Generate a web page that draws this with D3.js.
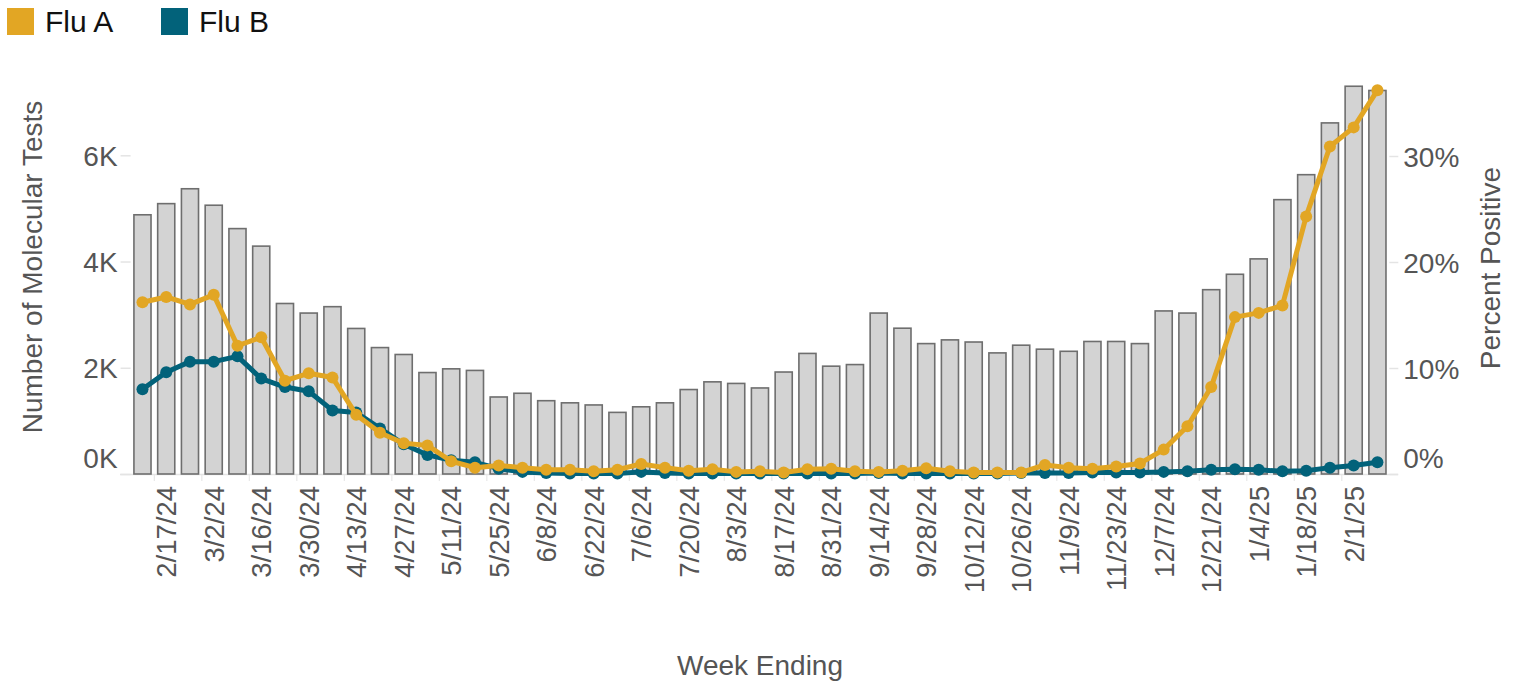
<!DOCTYPE html>
<html>
<head>
<meta charset="utf-8">
<script src="https://cdn.jsdelivr.net/npm/d3@7"></script>
<style>
  html, body { margin: 0; padding: 0; background: #fff; }
  svg { display: block; font-family: "Liberation Sans", Arial, sans-serif; }
</style>
</head>
<body>
<svg id="chart" width="1515" height="683"></svg>
<script>
const weeks = ["2/10/24","2/17/24","2/24/24","3/2/24","3/9/24","3/16/24","3/23/24","3/30/24","4/6/24","4/13/24","4/20/24","4/27/24","5/4/24","5/11/24","5/18/24","5/25/24","6/1/24","6/8/24","6/15/24","6/22/24","6/29/24","7/6/24","7/13/24","7/20/24","7/27/24","8/3/24","8/10/24","8/17/24","8/24/24","8/31/24","9/7/24","9/14/24","9/21/24","9/28/24","10/5/24","10/12/24","10/19/24","10/26/24","11/2/24","11/9/24","11/16/24","11/23/24","11/30/24","12/7/24","12/14/24","12/21/24","12/28/24","1/4/25","1/11/25","1/18/25","1/25/25","2/1/25","2/8/25"];
const tickLabels = ["2/17/24","3/2/24","3/16/24","3/30/24","4/13/24","4/27/24","5/11/24","5/25/24","6/8/24","6/22/24","7/6/24","7/20/24","8/3/24","8/17/24","8/31/24","9/14/24","9/28/24","10/12/24","10/26/24","11/9/24","11/23/24","12/7/24","12/21/24","1/4/25","1/18/25","2/1/25"];
const tests = [4880,5090,5370,5060,4620,4290,3210,3030,3150,2740,2380,2250,1910,1980,1950,1450,1520,1380,1340,1300,1160,1265,1340,1590,1735,1705,1620,1920,2270,2030,2060,3030,2745,2455,2525,2485,2280,2425,2350,2310,2495,2495,2455,3070,3030,3470,3760,4050,5165,5635,6610,7300,7220];
const fluA = [16.2,16.7,16.0,16.9,12.1,12.9,8.8,9.5,9.1,5.6,3.9,2.9,2.7,1.2,0.6,0.8,0.6,0.4,0.4,0.25,0.4,0.95,0.6,0.3,0.45,0.2,0.25,0.15,0.45,0.5,0.25,0.2,0.3,0.55,0.25,0.15,0.15,0.15,0.85,0.6,0.5,0.7,1.0,2.3,4.5,8.2,14.8,15.2,15.9,24.3,30.9,32.7,36.2];
const fluB = [8.0,9.6,10.6,10.6,11.1,9.0,8.2,7.8,6.0,5.8,4.3,2.8,1.8,1.3,1.1,0.5,0.2,0.1,0.05,0.05,0.05,0.2,0.1,0.05,0.05,0.05,0.05,0.05,0.05,0.05,0.05,0.1,0.05,0.05,0.05,0.05,0.05,0.1,0.1,0.1,0.15,0.15,0.15,0.2,0.25,0.4,0.45,0.4,0.25,0.3,0.6,0.8,1.1];
const leftTicks = [0, 2000, 4000, 6000];
const rightTicks = [0, 10, 20, 30];
const seriesNames = ["Flu A", "Flu B"];
const seriesColors = ["#E2A624", "#02627A"];

const svg = d3.select("#chart");
const pLeft = 130.6, pRight = 1389.3, pBottom = 474, pTop = 155.3;

const x = d3.scaleBand().domain(weeks).range([pLeft, pRight]).paddingInner(0.28).paddingOuter(0.14);
const yL = d3.scaleLinear().domain([0, 6000]).range([pBottom, pTop]);
const yR = d3.scaleLinear().domain([0, 30]).range([pBottom, pTop + 0.7]);

const textCol = "#555555";

// baseline
svg.append("line").attr("x1", 120).attr("x2", 1398).attr("y1", pBottom + 0.5).attr("y2", pBottom + 0.5)
  .attr("stroke", "#e4e4e4").attr("stroke-width", 1.5);

// bars
svg.append("g").selectAll("rect").data(tests).join("rect")
  .attr("x", (d, i) => x(weeks[i]))
  .attr("width", x.bandwidth())
  .attr("y", d => yL(d))
  .attr("height", d => pBottom - yL(d))
  .attr("fill", "#d3d3d3")
  .attr("stroke", "#6e6e6e")
  .attr("stroke-width", 1.6);

// left axis
const gL = svg.append("g").attr("transform", `translate(${pLeft},0)`)
  .call(d3.axisLeft(yL).tickValues(leftTicks).tickSize(10).tickPadding(3).tickFormat(d => (d / 1000) + "K"));
gL.select(".domain").remove();
gL.selectAll(".tick line").attr("stroke", "#e4e4e4").attr("stroke-width", 1.5);
gL.selectAll(".tick text").attr("fill", textCol).attr("font-size", 28)
  .attr("font-family", "Liberation Sans, Arial, sans-serif")
  .attr("dy", d => d === 0 ? "-0.22em" : "0.36em");

// right axis
const gR = svg.append("g").attr("transform", `translate(${pRight},0)`)
  .call(d3.axisRight(yR).tickValues(rightTicks).tickSize(9).tickPadding(5).tickFormat(d => d + "%"));
gR.select(".domain").remove();
gR.selectAll(".tick line").attr("stroke", "#e4e4e4").attr("stroke-width", 1.5);
gR.selectAll(".tick text").attr("fill", textCol).attr("font-size", 28)
  .attr("font-family", "Liberation Sans, Arial, sans-serif")
  .attr("dy", d => d === 0 ? "-0.22em" : "0.36em");

// x axis labels
const gX = svg.append("g").attr("transform", `translate(0,${pBottom})`)
  .call(d3.axisBottom(x).tickValues(tickLabels).tickSize(0).tickPadding(0));
gX.select(".domain").remove();
gX.selectAll(".tick text")
  .attr("fill", textCol).attr("font-size", 27.5)
  .attr("font-family", "Liberation Sans, Arial, sans-serif")
  .attr("transform", "rotate(-90)")
  .attr("text-anchor", "end")
  .attr("x", -12).attr("y", 0).attr("dy", "0.36em");
// faint tick marks at band boundaries left of labeled weeks
svg.append("g").selectAll("line").data(tickLabels).join("line")
  .attr("x1", d => x(d) - x.step() * x.paddingInner() / 2)
  .attr("x2", d => x(d) - x.step() * x.paddingInner() / 2)
  .attr("y1", pBottom + 1).attr("y2", pBottom + 7)
  .attr("stroke", "#e8e8e8").attr("stroke-width", 1.2);

// lines
const series = [fluB, fluA];
const colors = [seriesColors[1], seriesColors[0]];
series.forEach((s, k) => {
  const line = d3.line().x((d, i) => x(weeks[i]) + x.bandwidth() / 2).y(d => yR(d));
  svg.append("path").datum(s).attr("d", line)
    .attr("fill", "none").attr("stroke", colors[k]).attr("stroke-width", 5)
    .attr("stroke-linejoin", "round").attr("stroke-linecap", "round");
  svg.append("g").selectAll("circle").data(s).join("circle")
    .attr("cx", (d, i) => x(weeks[i]) + x.bandwidth() / 2)
    .attr("cy", d => yR(d))
    .attr("r", 6)
    .attr("fill", colors[k]);
});

// axis titles
svg.append("text").attr("transform", "translate(42,267) rotate(-90)")
  .attr("text-anchor", "middle").attr("font-size", 28).attr("fill", textCol)
  .text("Number of Molecular Tests");
svg.append("text").attr("transform", "translate(1500,268) rotate(-90)")
  .attr("text-anchor", "middle").attr("font-size", 28).attr("fill", textCol)
  .text("Percent Positive");
svg.append("text").attr("x", 760).attr("y", 675)
  .attr("text-anchor", "middle").attr("font-size", 28).attr("fill", textCol)
  .text("Week Ending");

// legend
const legX = [7, 161];
seriesNames.forEach((n, i) => {
  svg.append("rect").attr("x", legX[i]).attr("y", 8).attr("width", 27).attr("height", 27).attr("fill", seriesColors[i]);
  svg.append("text").attr("x", legX[i] + 38).attr("y", 21.5).attr("dy", "0.36em")
    .attr("font-size", 30).attr("fill", "#111").text(n);
});
</script>
</body>
</html>
